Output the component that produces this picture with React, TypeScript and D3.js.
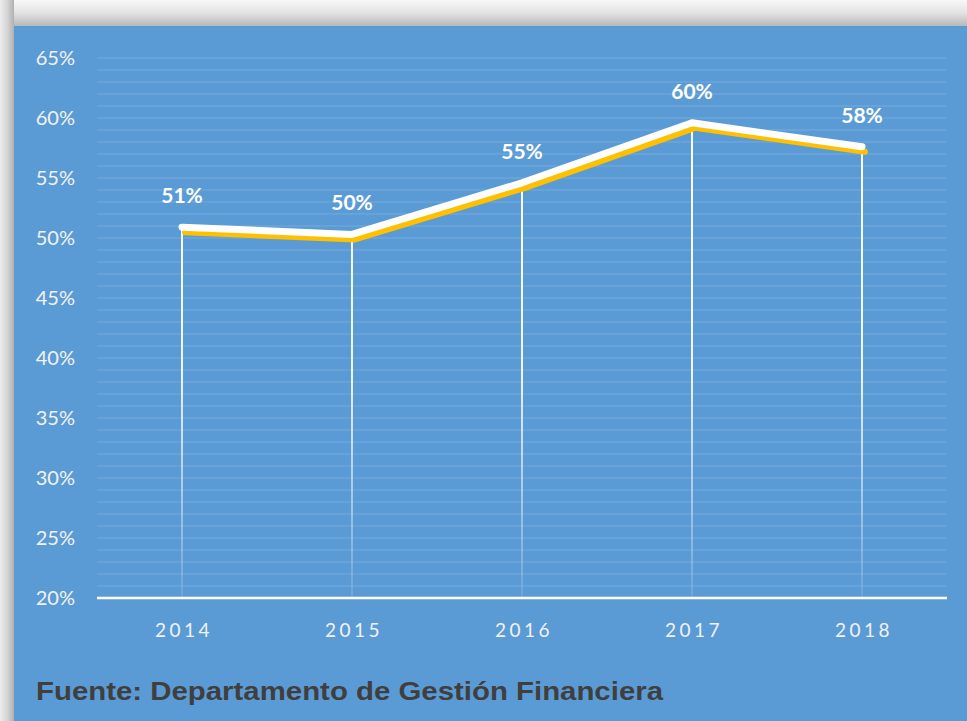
import React from "react";
import * as d3 from "d3";

const years = ["2014", "2015", "2016", "2017", "2018"];
const values = [0.509, 0.503, 0.546, 0.596, 0.576];
const yTicks = [0.2, 0.25, 0.3, 0.35, 0.4, 0.45, 0.5, 0.55, 0.6, 0.65];
const sourceText = "Fuente: Departamento de Gestión Financiera";

const W = 967;
const H = 721;

export default function App() {
  const x = d3.scaleBand<string>().domain(years).range([97, 947]);
  const y = d3.scaleLinear().domain([0.2, 0.65]).range([598, 58]);
  const minor = d3.range(21, 66).map((d) => d / 100);
  const fmt = d3.format(".0%");
  const cx = (d: string) => (x(d) ?? 0) + x.bandwidth() / 2;
  const pts: [number, number][] = years.map((d, i) => [cx(d), y(values[i])]);
  const line = d3.line();
  const shadowPts: [number, number][] = pts.map(([a, b]) => [a + 3, b + 5]);

  return (
    <div style={{ position: "absolute", left: 0, top: 0 }}>
      <svg width={W} height={H} style={{ display: "block" }}>
        <defs>
          <linearGradient id="topShadow" x1="0" y1="0" x2="0" y2="1">
            <stop offset="0" stopColor="#f8f8f8" />
            <stop offset="0.5" stopColor="#e2e2e2" />
            <stop offset="1" stopColor="#b8b8b8" />
          </linearGradient>
          <linearGradient id="leftShadow" x1="0" y1="0" x2="1" y2="0">
            <stop offset="0" stopColor="#ececec" />
            <stop offset="0.5" stopColor="#d6d6d6" />
            <stop offset="1" stopColor="#b0b0b0" />
          </linearGradient>
          <linearGradient id="dropGrad" gradientUnits="userSpaceOnUse" x1="0" y1="100" x2="0" y2="598">
            <stop offset="0" stopColor="#ffffff" stopOpacity="1" />
            <stop offset="0.55" stopColor="#ffffff" stopOpacity="0.9" />
            <stop offset="1" stopColor="#ffffff" stopOpacity="0.1" />
          </linearGradient>
        </defs>
        <rect x={0} y={0} width={W} height={H} fill="#e4e4e4" />
        <rect x={0} y={0} width={W} height={26} fill="url(#topShadow)" />
        <rect x={0} y={0} width={14} height={H} fill="url(#leftShadow)" />
        <rect x={14} y={26} width={W - 14} height={H - 26} fill="#5B9BD5" />

        {/* minor gridlines */}
        {minor.map((v) => (
          <line
            key={v}
            x1={97}
            x2={947}
            y1={y(v)}
            y2={y(v)}
            stroke="#ffffff"
            strokeOpacity={0.16}
            strokeWidth={1}
          />
        ))}

        {/* y tick labels */}
        {yTicks.map((v) => (
          <text
            key={v}
            x={75}
            y={y(v)}
            dy="0.35em"
            textAnchor="end"
            fill="#F2F2F2"
            fontFamily="Lato, 'Open Sans', sans-serif"
            fontSize={20}
          >
            {fmt(v)}
          </text>
        ))}

        {/* drop lines */}
        {pts.map(([px, py], i) => (
          <line
            key={years[i]}
            x1={px}
            x2={px}
            y1={py}
            y2={598}
            stroke="url(#dropGrad)"
            strokeWidth={2}
          />
        ))}

        {/* x axis */}
        <line x1={97} x2={947} y1={598} y2={598} stroke="#ffffff" strokeWidth={2.5} />
        {years.map((d) => (
          <text
            key={d}
            x={cx(d) + 2}
            y={637}
            textAnchor="middle"
            fill="#F2F2F2"
            fontFamily="Lato, 'Open Sans', sans-serif"
            fontSize={19}
            letterSpacing={3.5}
          >
            {d}
          </text>
        ))}

        {/* line shadow (gold) */}
        <path
          d={line(shadowPts) ?? ""}
          fill="none"
          stroke="#FFC000"
          strokeWidth={6}
          strokeLinejoin="round"
          strokeLinecap="round"
        />
        {/* main white line */}
        <path
          d={line(pts) ?? ""}
          fill="none"
          stroke="#ffffff"
          strokeWidth={7}
          strokeLinejoin="round"
          strokeLinecap="round"
        />

        {/* data labels */}
        {pts.map(([px, py], i) => (
          <text
            key={years[i]}
            x={px}
            y={py - 24}
            textAnchor="middle"
            fill="#ffffff"
            fontFamily="Lato, 'Open Sans', sans-serif"
            fontWeight="bold"
            fontSize={21}
          >
            {fmt(values[i])}
          </text>
        ))}

        {/* source */}
        <text
          x={36}
          y={700}
          fill="#3F3F3F"
          fontFamily="'Liberation Sans Narrow', 'Liberation Sans', Arial, sans-serif"
          fontWeight="bold"
          fontSize={25}
          textLength={627}
          lengthAdjust="spacingAndGlyphs"
        >
          {sourceText}
        </text>
      </svg>
    </div>
  );
}
